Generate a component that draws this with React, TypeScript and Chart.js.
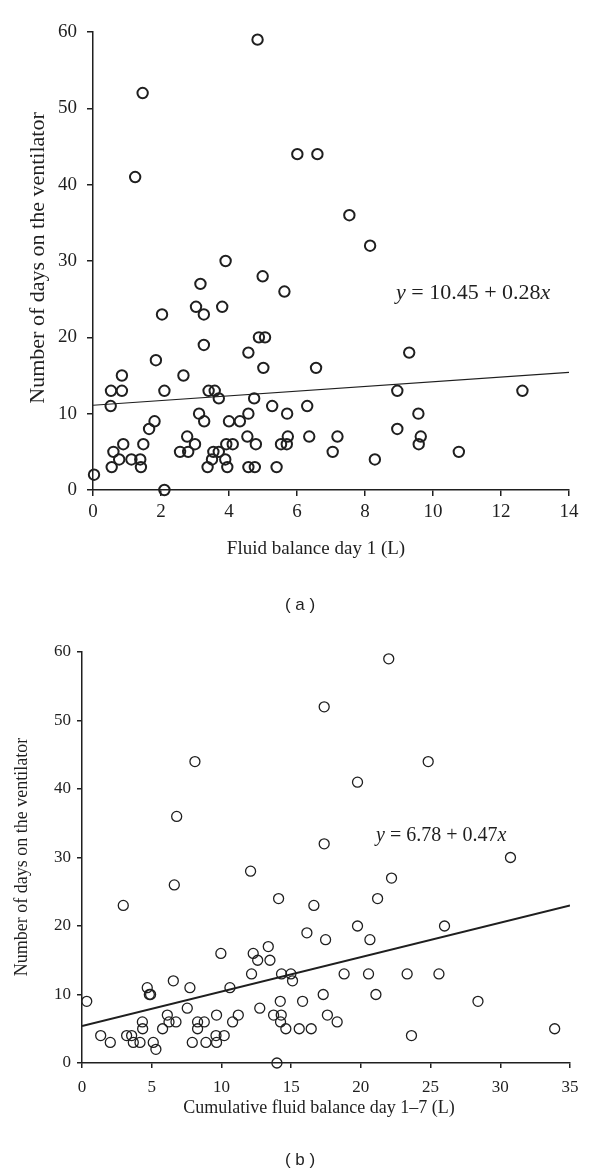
import React, { useEffect, useRef } from "react";
import { Chart, registerables } from "chart.js";
Chart.register(...registerables);

// ---------- Data: panel (a) ----------
const fluidDay1 = [
  0.03, 0.52, 0.53, 0.85, 0.85, 0.6, 0.55, 0.77, 0.89, 1.13, 1.39, 1.41, 1.48, 1.65, 1.81, 1.85,
  2.03, 2.1, 2.1, 2.66, 2.56, 2.77, 2.8, 3.0, 3.03, 3.16, 3.26, 3.26, 3.12, 3.27, 3.4, 3.58,
  3.7, 3.37, 3.5, 3.54, 3.7, 3.8, 3.9, 3.89, 3.95, 3.92, 4.11, 4.0, 4.32, 4.99, 5.63, 4.88,
  5.06, 4.57, 5.01, 6.56, 9.3, 8.95, 4.74, 5.27, 6.3, 4.57, 5.71, 4.54, 5.73, 6.36, 7.19, 8.95,
  4.79, 5.53, 5.7, 7.05, 8.29, 4.57, 4.76, 5.4, 9.57, 9.64, 9.58, 10.76, 12.63, 1.46, 1.24, 4.84,
  6.01, 6.6, 7.54, 8.15,
];
const ventDaysA = [
  2, 11, 13, 13, 15, 5, 3, 4, 6, 4, 4, 3, 6, 8, 9, 17,
  23, 13, 0, 15, 5, 7, 5, 6, 24, 27, 23, 19, 10, 9, 13, 13,
  12, 3, 4, 5, 5, 24, 30, 4, 3, 6, 6, 9, 9, 28, 26, 20,
  20, 18, 16, 16, 18, 13, 12, 11, 11, 10, 10, 7, 7, 7, 7, 8,
  6, 6, 6, 5, 4, 3, 3, 3, 10, 7, 6, 5, 13, 52, 41, 59,
  44, 44, 36, 32,
];
const fitAx = [0, 14];
const fitAy = [11.1, 15.4];
const xTicksA = [0, 2, 4, 6, 8, 10, 12, 14];
const yTicks = [0, 10, 20, 30, 40, 50, 60];

// ---------- Data: panel (b) ----------
const cumFluid = [
  0.34, 1.34, 2.03, 2.96, 3.2, 3.56, 3.68, 4.16, 4.33, 4.35, 4.68, 4.83, 4.92, 5.11, 5.3, 5.78,
  6.12, 6.24, 6.55, 6.62, 6.74, 6.79, 7.55, 7.74, 7.91, 8.1, 8.29, 8.29, 8.77, 8.89, 9.61, 9.65,
  9.65, 9.96, 10.2, 10.61, 10.8, 11.21, 12.09, 12.28, 12.16, 12.6, 12.75, 13.36, 13.48, 13.74,
  13.98, 14.1, 14.22, 14.29, 14.24, 14.31, 14.62, 14.98, 15.1, 15.58, 15.82, 16.13, 16.44, 16.63,
  17.3, 17.37, 17.37, 17.47, 17.6, 18.3, 18.8, 19.76, 19.76, 20.55, 20.65, 21.08, 21.2, 22.0,
  22.2, 23.32, 23.63, 24.83, 25.6, 26.0, 28.4, 30.73, 33.9,
];
const ventDaysB = [
  9, 4, 3, 23, 4, 4, 3, 3, 6, 5, 11, 10, 10, 3, 2, 5,
  7, 6, 12, 26, 6, 36, 8, 11, 3, 44, 6, 5, 6, 3, 4, 7,
  3, 16, 4, 11, 6, 7, 28, 16, 13, 15, 8, 17, 15, 7,
  0, 24, 9, 7, 6, 13, 5, 13, 12, 5, 9, 19, 5, 23,
  10, 52, 32, 18, 7, 6, 13, 20, 41, 13, 18, 10, 24, 59,
  27, 13, 4, 44, 13, 20, 9, 30, 5,
];
const fitBx = [0, 35];
const fitBy = [5.4, 23.0];
const xTicksB = [0, 5, 10, 15, 20, 25, 30, 35];

const INK = "#1f1f1f";
const SERIF = "'Liberation Serif', 'DejaVu Serif', serif";

type Piece = { text: string; font: string };
type TextItem = { x: number; y: number; pieces: Piece[]; align?: "center" | "left"; rotate?: number };

function textPlugin(items: TextItem[]) {
  return {
    id: "annotText",
    afterDraw(chart: any) {
      const ctx = chart.ctx as CanvasRenderingContext2D;
      for (const item of items) {
        ctx.save();
        ctx.fillStyle = INK;
        ctx.textBaseline = "middle";
        ctx.textAlign = "left";
        ctx.translate(item.x, item.y);
        if (item.rotate) ctx.rotate(item.rotate);
        let total = 0;
        const widths = item.pieces.map((p) => {
          ctx.font = p.font;
          const w = ctx.measureText(p.text).width;
          total += w;
          return w;
        });
        let cx = item.align === "left" ? 0 : -total / 2;
        item.pieces.forEach((p, i) => {
          ctx.font = p.font;
          ctx.fillText(p.text, cx, 0);
          cx += widths[i];
        });
        ctx.restore();
      }
    },
  };
}

type PanelCfg = {
  xs: number[];
  ys: number[];
  fitX: number[];
  fitY: number[];
  xTicks: number[];
  yTicks: number[];
  areaLeft: number;
  areaRight: number;
  areaTop: number;
  areaBottom: number;
  height: number;
  tickFont: number;
  tickLen: number;
  xPad: number;
  yPad: number;
  pointRadius: number;
  pointBorder: number;
  fitWidth: number;
  axisWidth: number;
  texts: TextItem[];
};

function makeChart(canvas: HTMLCanvasElement, c: PanelCfg) {
  const tickFont = { family: SERIF, size: c.tickFont };
  const gridCfg = {
    drawOnChartArea: false,
    drawTicks: true,
    tickLength: c.tickLen,
    color: INK,
    tickColor: INK,
    lineWidth: c.axisWidth,
  };
  return new Chart(canvas, {
    type: "scatter",
    data: {
      datasets: [
        {
          type: "scatter",
          data: c.xs.map((x, i) => ({ x, y: c.ys[i] })),
          pointStyle: "circle",
          pointRadius: c.pointRadius,
          pointBorderWidth: c.pointBorder,
          borderColor: INK,
          backgroundColor: "rgba(0,0,0,0)",
          clip: false,
        } as any,
        {
          type: "line",
          data: c.fitX.map((x, i) => ({ x, y: c.fitY[i] })),
          borderColor: INK,
          borderWidth: c.fitWidth,
          pointRadius: 0,
          fill: false,
          showLine: true,
        } as any,
      ],
    },
    options: {
      animation: false,
      responsive: false,
      maintainAspectRatio: false,
      layout: {
        padding: { left: 0, right: 600 - c.areaRight, top: c.areaTop, bottom: 0 },
      },
      plugins: { legend: { display: false }, tooltip: { enabled: false } },
      scales: {
        x: {
          type: "linear",
          min: c.xTicks[0],
          max: c.xTicks[c.xTicks.length - 1],
          afterBuildTicks: (s: any) => {
            s.ticks = c.xTicks.map((v) => ({ value: v }));
          },
          afterFit: (s: any) => {
            s.height = c.height - c.areaBottom;
          },
          ticks: { font: tickFont, color: INK, padding: c.xPad, maxRotation: 0, autoSkip: false },
          grid: gridCfg,
          border: { display: true, color: INK, width: c.axisWidth },
        },
        y: {
          type: "linear",
          min: c.yTicks[0],
          max: c.yTicks[c.yTicks.length - 1],
          afterBuildTicks: (s: any) => {
            s.ticks = c.yTicks.map((v) => ({ value: v }));
          },
          afterFit: (s: any) => {
            s.width = c.areaLeft;
          },
          ticks: { font: tickFont, color: INK, padding: c.yPad, autoSkip: false },
          grid: gridCfg,
          border: { display: true, color: INK, width: c.axisWidth },
        },
      },
    },
    plugins: [textPlugin(c.texts)],
  } as any);
}

export default function App() {
  const refA = useRef<HTMLCanvasElement>(null);
  const refB = useRef<HTMLCanvasElement>(null);

  useEffect(() => {
    const f = (size: number, italic = false) => `${italic ? "italic " : ""}${size}px ${SERIF}`;
    const sans = "17px 'Liberation Sans', Arial, sans-serif";
    const chartA = makeChart(refA.current!, {
      xs: fluidDay1,
      ys: ventDaysA,
      fitX: fitAx,
      fitY: fitAy,
      xTicks: xTicksA,
      yTicks: yTicks,
      areaLeft: 93,
      areaRight: 569,
      areaTop: 32,
      areaBottom: 490,
      height: 620,
      tickFont: 19,
      tickLen: 6,
      xPad: 5,
      yPad: 10,
      pointRadius: 5.2,
      pointBorder: 2,
      fitWidth: 1.2,
      axisWidth: 1.5,
      texts: [
        { x: 38, y: 258, rotate: -Math.PI / 2, pieces: [{ text: "Number of days on the ventilator", font: f(22) }] },
        { x: 316, y: 549, pieces: [{ text: "Fluid balance day 1 (L)", font: f(19) }] },
        { x: 300, y: 605, pieces: [{ text: "( a )", font: sans }] },
        {
          x: 396,
          y: 293,
          align: "left",
          pieces: [
            { text: "y", font: f(22, true) },
            { text: " = 10.45 + 0.28", font: f(22) },
            { text: "x", font: f(22, true) },
          ],
        },
      ],
    });
    const chartB = makeChart(refB.current!, {
      xs: cumFluid,
      ys: ventDaysB,
      fitX: fitBx,
      fitY: fitBy,
      xTicks: xTicksB,
      yTicks: yTicks,
      areaLeft: 82,
      areaRight: 570,
      areaTop: 32,
      areaBottom: 443,
      height: 556,
      tickFont: 17,
      tickLen: 5,
      xPad: 9,
      yPad: 6,
      pointRadius: 5,
      pointBorder: 1.3,
      fitWidth: 2,
      axisWidth: 1.5,
      texts: [
        { x: 22, y: 237, rotate: -Math.PI / 2, pieces: [{ text: "Number of days on the ventilator", font: f(18) }] },
        { x: 319, y: 488, pieces: [{ text: "Cumulative fluid balance day 1\u20137 (L)", font: f(18) }] },
        { x: 300, y: 540, pieces: [{ text: "( b )", font: sans }] },
        {
          x: 376,
          y: 216,
          align: "left",
          pieces: [
            { text: "y", font: f(20, true) },
            { text: " = 6.78 + 0.47", font: f(20) },
            { text: "x", font: f(20, true) },
          ],
        },
      ],
    });
    return () => {
      chartA.destroy();
      chartB.destroy();
    };
  }, []);

  return (
    <div style={{ position: "absolute", left: 0, top: 0, width: 600, height: 1176, background: "#fff" }}>
      <canvas ref={refA} width={600} height={620} style={{ position: "absolute", left: 0, top: 0, width: 600, height: 620 }} />
      <canvas ref={refB} width={600} height={556} style={{ position: "absolute", left: 0, top: 620, width: 600, height: 556 }} />
    </div>
  );
}
